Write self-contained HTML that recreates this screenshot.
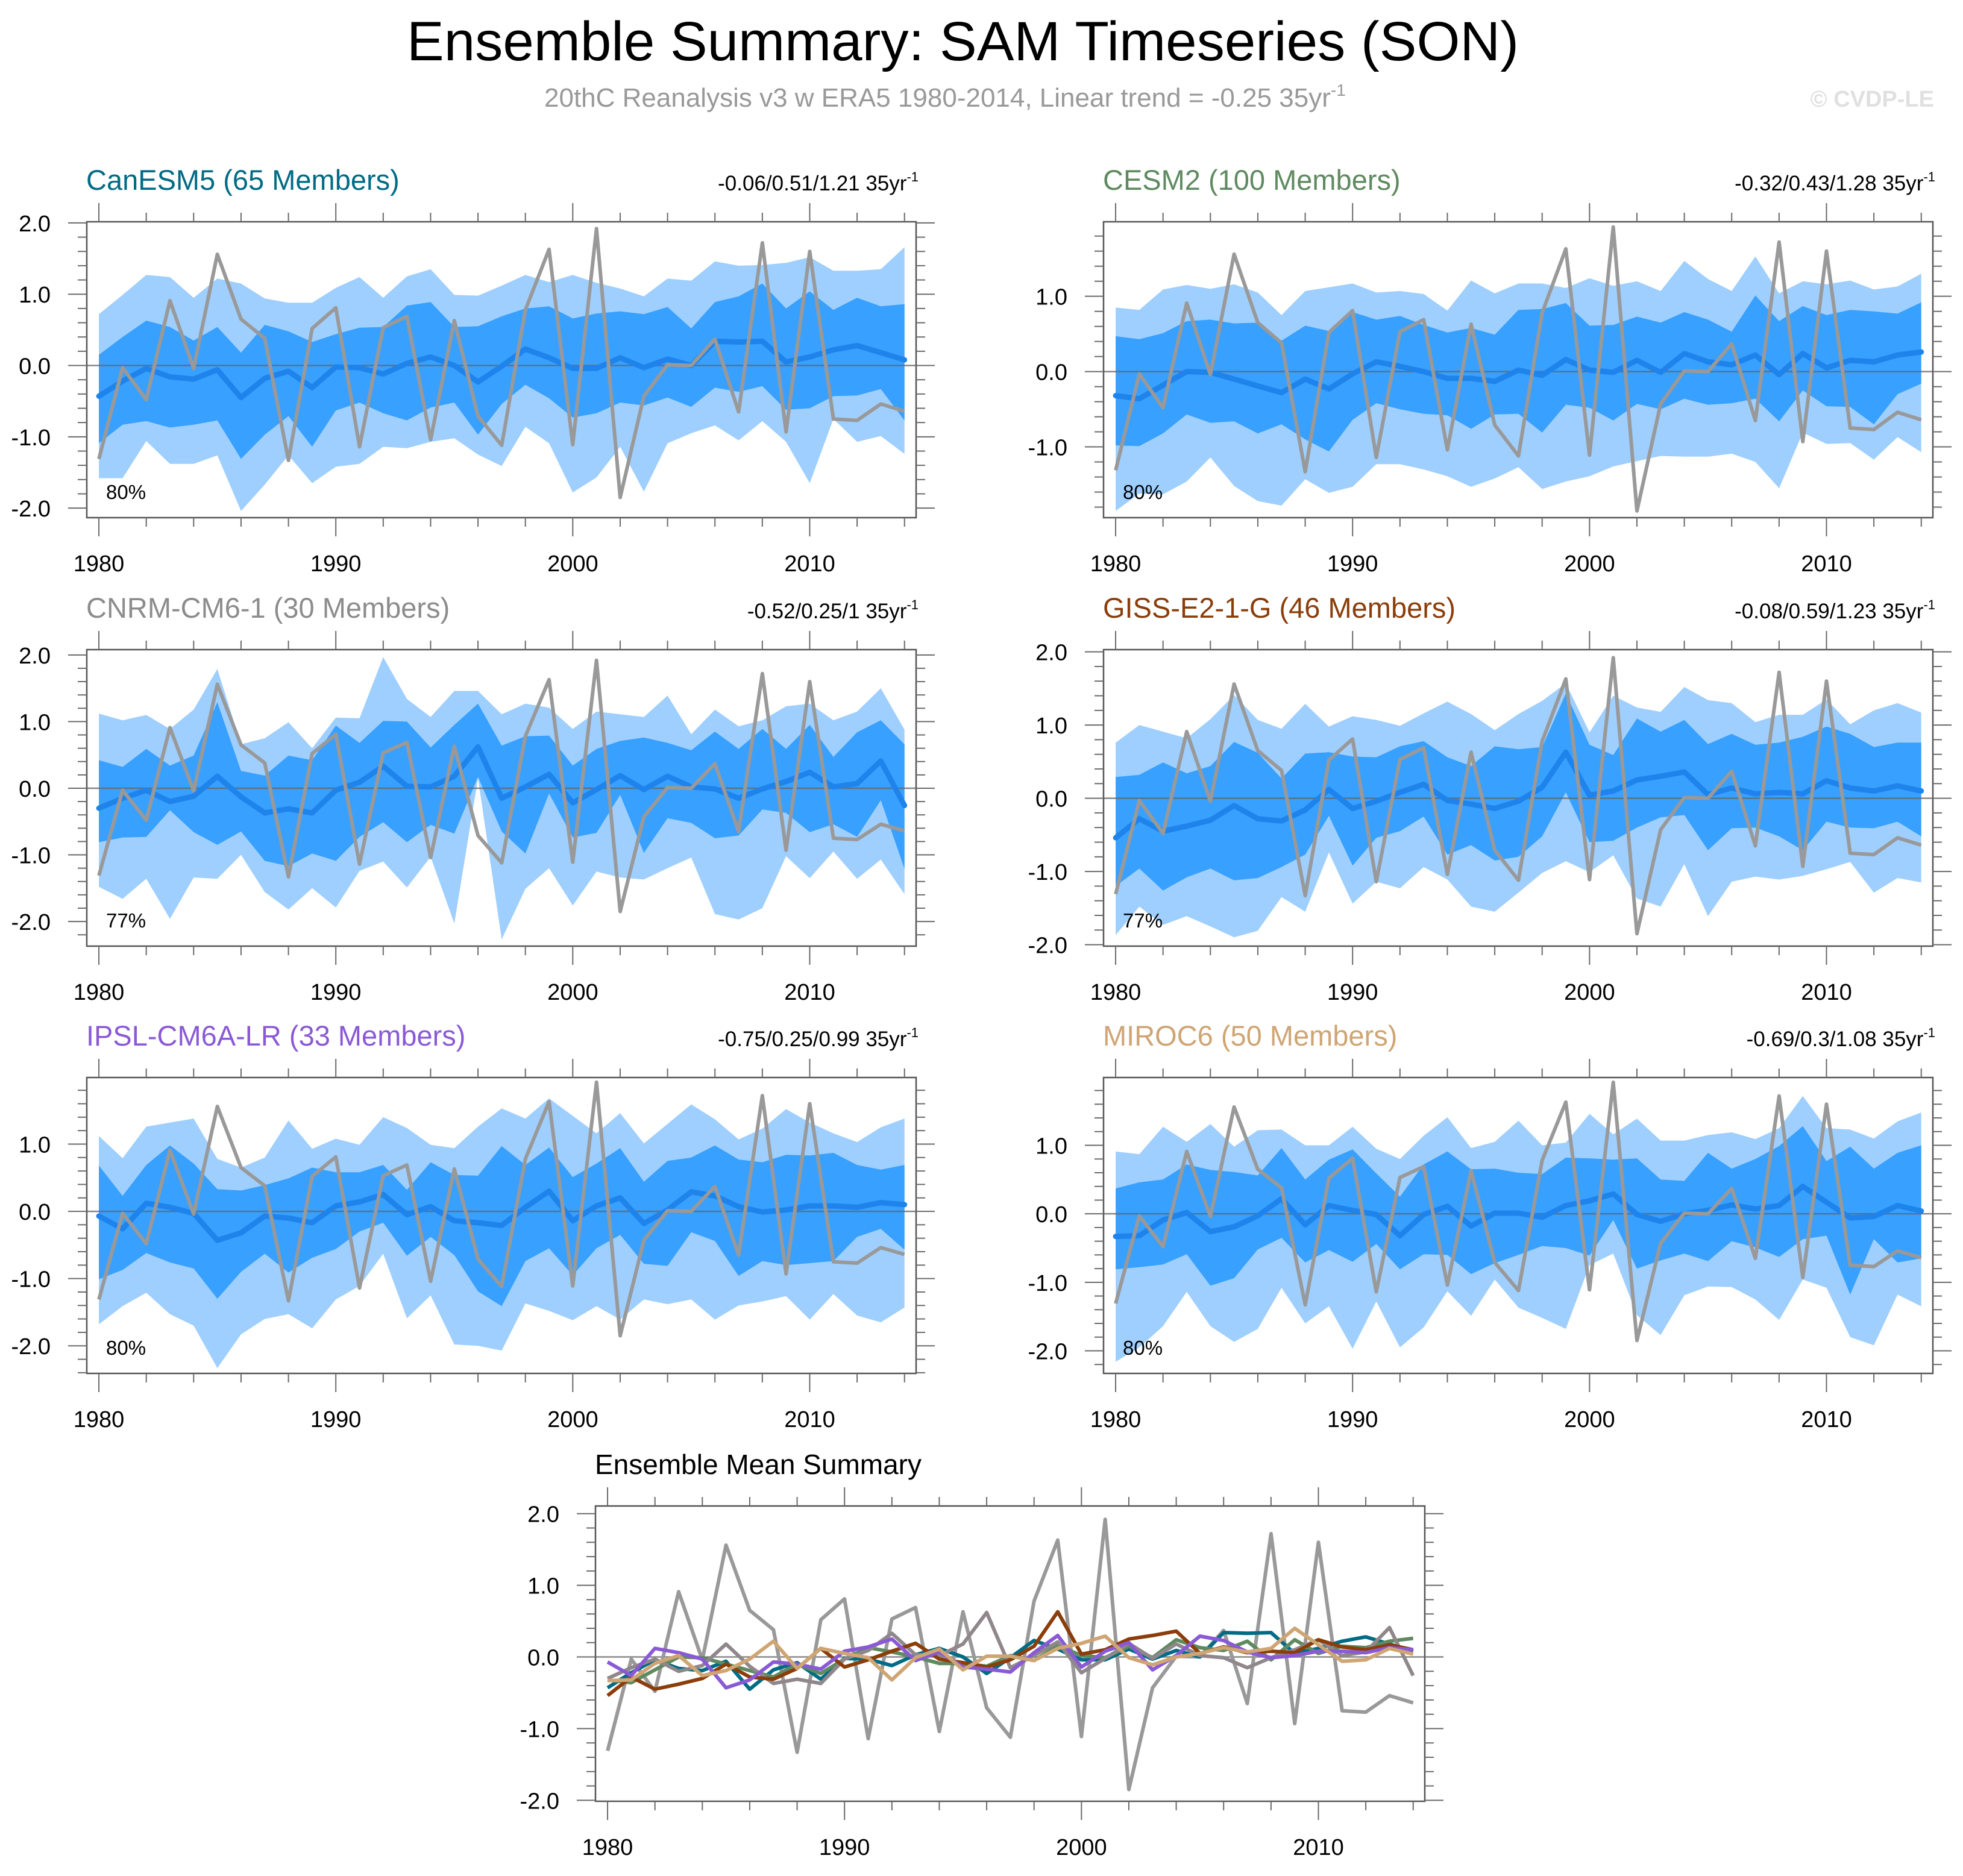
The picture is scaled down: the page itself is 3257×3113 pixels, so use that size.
<!DOCTYPE html>
<html><head><meta charset="utf-8"><title>Ensemble Summary: SAM Timeseries (SON)</title>
<style>html,body{margin:0;padding:0;background:#fff}svg{display:block}text{font-family:"Liberation Sans",sans-serif}</style>
</head><body>
<svg id="chart" xmlns="http://www.w3.org/2000/svg" width="3257" height="3113" viewBox="0 0 3257 3113">
<rect x="0" y="0" width="3257" height="3113" fill="#fff"/>
<text x="675" y="100" font-size="92" textLength="1845" lengthAdjust="spacingAndGlyphs" fill="#000">Ensemble Summary: SAM Timeseries (SON)</text>
<text x="903" y="177" font-size="44" fill="#999">20thC Reanalysis v3 w ERA5 1980-2014, Linear trend = -0.25 35yr<tspan dy="-18" font-size="28">-1</tspan></text>
<text x="3209" y="177" font-size="38" font-weight="bold" fill="#e0e0e0" text-anchor="end">© CVDP-LE</text>
<g id="plots"></g>
</svg>
<script>
const years = [1980,1981,1982,1983,1984,1985,1986,1987,1988,1989,1990,1991,1992,1993,1994,1995,1996,1997,1998,1999,2000,2001,2002,2003,2004,2005,2006,2007,2008,2009,2010,2011,2012,2013,2014];
const obs = [-1.31,-0.03,-0.48,0.91,-0.04,1.56,0.65,0.38,-1.33,0.52,0.81,-1.14,0.53,0.69,-1.04,0.63,-0.71,-1.12,0.78,1.63,-1.11,1.92,-1.85,-0.43,0.01,0.0,0.37,-0.65,1.72,-0.93,1.60,-0.75,-0.77,-0.54,-0.64];

const canesm5Hi2 = [0.72,0.99,1.27,1.24,0.95,1.22,1.15,0.94,0.88,0.88,1.09,1.24,0.95,1.25,1.35,0.99,0.98,1.12,1.27,1.17,1.27,1.16,1.08,0.97,1.22,1.19,1.46,1.40,1.41,1.44,1.52,1.33,1.33,1.35,1.66];
const canesm5Hi1 = [0.15,0.40,0.63,0.54,0.35,0.54,0.18,0.57,0.48,0.33,0.44,0.53,0.54,0.84,0.89,0.54,0.55,0.69,0.80,0.83,0.66,0.73,0.76,0.72,0.82,0.52,0.89,0.97,1.15,0.80,1.04,0.78,0.95,0.83,0.86];
const canesm5Mean = [-0.43,-0.22,-0.04,-0.16,-0.19,-0.06,-0.45,-0.18,-0.08,-0.31,-0.02,-0.03,-0.12,0.03,0.12,0.0,-0.23,-0.01,0.23,0.11,-0.04,-0.04,0.11,-0.03,0.09,0.0,0.34,0.33,0.34,0.05,0.12,0.22,0.28,0.18,0.08];
const canesm5Lo1 = [-1.09,-0.83,-0.78,-0.87,-0.83,-0.77,-1.31,-0.97,-0.71,-1.14,-0.63,-0.52,-0.67,-0.77,-0.59,-0.52,-0.97,-0.54,-0.27,-0.46,-0.73,-0.67,-0.52,-0.56,-0.45,-0.58,-0.31,-0.37,-0.29,-0.62,-0.60,-0.43,-0.42,-0.33,-0.77];
const canesm5Lo2 = [-1.58,-1.58,-1.06,-1.38,-1.38,-1.26,-2.04,-1.67,-1.26,-1.65,-1.42,-1.38,-1.14,-1.16,-1.07,-1.02,-1.25,-1.41,-0.86,-1.09,-1.78,-1.57,-1.14,-1.77,-1.09,-0.95,-0.84,-1.05,-0.78,-1.07,-1.65,-0.75,-1.07,-0.99,-1.24];

const cesm2Hi2 = [0.85,0.82,1.09,1.15,1.10,1.16,1.05,0.75,1.07,1.12,1.17,1.05,1.07,1.03,0.81,1.21,1.04,1.17,1.17,1.11,1.24,1.14,1.20,1.07,1.47,1.23,1.07,1.53,1.04,1.20,1.16,1.21,1.09,1.13,1.30];
const cesm2Hi1 = [0.47,0.43,0.51,0.67,0.69,0.64,0.65,0.41,0.61,0.54,0.79,0.69,0.74,0.62,0.52,0.58,0.49,0.82,0.83,0.91,0.61,0.62,0.73,0.65,0.79,0.69,0.53,1.01,0.67,0.87,0.75,0.82,0.80,0.77,0.92];
const cesm2Mean = [-0.32,-0.36,-0.18,0.0,-0.01,-0.10,-0.19,-0.28,-0.10,-0.23,-0.03,0.13,0.07,0.0,-0.09,-0.09,-0.13,0.02,-0.05,0.16,0.02,-0.01,0.15,-0.01,0.24,0.13,0.09,0.22,-0.04,0.24,0.05,0.15,0.13,0.22,0.26];
const cesm2Lo1 = [-0.98,-0.99,-0.82,-0.57,-0.68,-0.66,-0.82,-0.70,-0.90,-1.06,-0.64,-0.42,-0.50,-0.56,-0.58,-0.76,-0.57,-0.56,-0.81,-0.44,-0.48,-0.65,-0.43,-0.50,-0.36,-0.44,-0.42,-0.36,-0.66,-0.25,-0.46,-0.47,-0.70,-0.30,-0.16];
const cesm2Lo2 = [-1.85,-1.62,-1.63,-1.46,-1.14,-1.52,-1.72,-1.78,-1.43,-1.61,-1.53,-1.23,-1.23,-1.30,-1.39,-1.53,-1.42,-1.27,-1.56,-1.46,-1.39,-1.26,-1.19,-1.12,-1.13,-1.13,-1.09,-1.20,-1.55,-0.81,-0.96,-0.95,-1.17,-0.87,-1.07];

const cnrmHi2 = [1.12,1.02,1.10,0.89,1.18,1.79,0.66,0.75,0.99,0.60,1.06,1.05,1.97,1.34,1.07,1.46,1.46,1.11,1.27,1.21,0.89,1.15,1.11,1.07,1.39,0.81,1.18,0.93,1.02,1.23,1.27,1.02,1.15,1.50,0.88];
const cnrmHi1 = [0.42,0.32,0.59,0.34,0.49,1.29,0.26,0.19,0.49,0.42,0.94,0.68,1.01,1.00,0.61,0.95,1.27,0.64,0.78,0.79,0.34,0.59,0.71,0.76,0.68,0.57,0.85,0.59,0.89,0.59,0.95,0.47,0.84,1.02,0.66];
const cnrmMean = [-0.30,-0.15,-0.03,-0.20,-0.12,0.18,-0.13,-0.37,-0.31,-0.37,-0.03,0.09,0.33,0.03,0.02,0.18,0.62,-0.15,0.02,0.21,-0.22,-0.02,0.19,-0.02,0.18,0.02,-0.01,-0.15,-0.01,0.10,0.24,0.02,0.07,0.41,-0.26];
const cnrmLo1 = [-0.81,-0.74,-0.73,-0.33,-0.66,-0.85,-0.65,-1.09,-1.17,-0.98,-1.09,-0.73,-0.51,-0.81,-0.55,-0.68,0.17,-0.65,-0.98,-0.08,-0.74,-0.67,-0.10,-0.97,-0.45,-0.52,-0.75,-0.71,-0.32,-0.37,-0.66,-0.54,-0.73,-0.18,-1.21];
const cnrmLo2 = [-1.48,-1.66,-1.36,-1.96,-1.34,-1.36,-1.00,-1.56,-1.82,-1.50,-1.79,-1.24,-1.10,-1.49,-1.03,-2.03,0.15,-2.27,-1.51,-1.20,-1.76,-1.25,-1.34,-1.37,-1.20,-1.04,-1.89,-1.97,-1.80,-1.02,-1.35,-0.95,-1.36,-1.07,-1.59];

const gissHi2 = [0.76,1.00,0.91,0.82,1.08,1.41,1.07,0.95,1.29,0.98,1.12,1.07,0.99,1.16,1.32,1.15,0.93,1.15,1.33,1.57,0.90,1.40,1.24,1.18,1.52,1.34,1.30,1.04,1.14,1.14,1.35,1.01,1.20,1.30,1.17];
const gissHi1 = [0.29,0.32,0.49,0.34,0.44,0.77,0.62,0.27,0.61,0.63,0.57,0.56,0.71,0.78,0.56,0.44,0.71,0.67,0.70,1.43,0.73,0.59,1.09,0.91,1.07,0.74,0.88,0.73,0.76,0.84,0.98,0.88,0.70,0.76,0.76];
const gissMean = [-0.54,-0.28,-0.45,-0.38,-0.30,-0.10,-0.28,-0.31,-0.16,0.12,-0.14,-0.04,0.08,0.19,-0.03,-0.08,-0.14,-0.04,0.15,0.63,0.04,0.10,0.25,0.30,0.36,0.05,0.14,0.06,0.08,0.06,0.24,0.14,0.10,0.17,0.10];
const gissLo1 = [-1.20,-0.96,-1.26,-1.08,-0.96,-1.12,-1.09,-0.94,-0.77,-0.24,-0.92,-0.54,-0.45,-0.25,-0.77,-0.64,-0.85,-0.80,-0.52,0.08,-0.60,-0.58,-0.40,-0.26,-0.23,-0.71,-0.41,-0.40,-0.52,-0.71,-0.32,-0.40,-0.41,-0.32,-0.52];
const gissLo2 = [-1.87,-1.48,-1.73,-1.61,-1.75,-1.90,-1.81,-1.35,-1.55,-0.74,-1.44,-1.14,-1.23,-0.94,-1.11,-1.48,-1.55,-1.29,-1.02,-0.86,-1.01,-0.78,-1.37,-1.48,-0.90,-1.61,-1.14,-1.07,-1.11,-1.06,-0.97,-0.87,-1.29,-1.09,-1.15];

const ipslHi2 = [1.12,0.79,1.26,1.32,1.38,0.78,0.65,0.80,1.35,0.93,1.08,0.99,1.40,1.24,0.99,0.94,1.26,1.53,1.38,1.68,1.42,1.16,1.46,1.01,1.30,1.59,1.37,1.07,1.23,1.52,1.32,1.16,1.03,1.25,1.38];
const ipslHi1 = [0.68,0.23,0.69,0.98,0.71,0.33,0.31,0.39,0.49,0.65,0.58,0.58,0.69,0.32,0.73,0.54,0.53,0.97,0.69,0.95,0.51,0.71,0.94,0.44,0.75,0.80,0.98,0.77,0.73,0.84,0.83,0.87,0.69,0.62,0.69];
const ipslMean = [-0.07,-0.26,0.12,0.06,-0.03,-0.43,-0.32,-0.07,-0.10,-0.17,0.08,0.14,0.25,-0.05,0.07,-0.14,-0.17,-0.21,0.06,0.30,-0.14,0.08,0.20,-0.18,0.02,0.29,0.23,0.07,-0.01,0.02,0.08,0.08,0.06,0.13,0.10];
const ipslLo1 = [-1.01,-0.87,-0.62,-0.76,-0.85,-1.30,-0.90,-0.63,-0.91,-0.69,-0.56,-0.30,-0.17,-0.66,-0.38,-0.65,-1.19,-1.41,-0.74,-0.55,-0.95,-0.55,-0.35,-0.78,-0.81,-0.31,-0.44,-0.96,-0.74,-0.80,-0.77,-0.74,-0.38,-0.26,-0.57];
const ipslLo2 = [-1.68,-1.41,-1.21,-1.53,-1.70,-2.33,-1.83,-1.60,-1.53,-1.74,-1.31,-1.11,-0.63,-1.59,-1.25,-1.98,-2.00,-2.07,-1.37,-1.48,-1.62,-1.41,-1.61,-1.31,-1.38,-1.31,-1.61,-1.40,-1.34,-1.26,-1.61,-1.23,-1.55,-1.65,-1.43];

const mirocHi2 = [0.91,0.87,1.27,1.05,1.31,0.98,1.22,1.23,1.00,1.00,1.27,0.95,0.80,1.14,1.41,0.96,1.05,1.36,1.00,1.04,1.46,1.16,1.39,1.07,1.07,1.15,1.19,1.09,1.25,1.72,1.25,1.23,1.10,1.35,1.48];
const mirocHi1 = [0.37,0.46,0.50,0.72,0.64,0.61,0.56,0.96,0.50,0.79,0.94,0.59,0.25,0.72,0.91,0.65,0.66,0.60,0.58,0.82,0.81,0.79,0.81,0.50,0.48,0.89,0.66,0.80,0.99,1.28,0.77,0.98,0.66,0.89,1.00];
const mirocMean = [-0.33,-0.32,-0.09,0.02,-0.26,-0.19,-0.03,0.22,-0.16,0.12,0.05,-0.01,-0.32,-0.01,0.11,-0.18,0.01,0.01,-0.05,0.12,0.19,0.29,-0.01,-0.11,0.0,0.05,0.13,0.07,0.12,0.40,0.17,-0.06,-0.04,0.12,0.04];
const mirocLo1 = [-0.81,-0.78,-0.74,-0.59,-1.05,-0.94,-0.52,-0.35,-0.71,-0.53,-0.70,-0.44,-0.81,-0.59,-0.60,-0.88,-0.72,-0.60,-0.47,-0.50,-0.61,-0.09,-0.80,-0.68,-0.58,-0.69,-0.40,-0.49,-0.63,-0.37,-0.32,-1.18,-0.37,-0.71,-0.65];
const mirocLo2 = [-2.16,-1.95,-1.64,-1.14,-1.64,-1.87,-1.68,-1.08,-1.60,-1.35,-1.97,-1.28,-1.95,-1.66,-1.13,-1.49,-0.96,-1.37,-1.52,-1.68,-0.75,-0.58,-1.48,-1.77,-1.19,-1.06,-1.07,-1.25,-1.55,-0.96,-1.08,-1.80,-1.92,-1.18,-1.35];

const modelNames = ["CanESM5 (65 Members)","CESM2 (100 Members)","CNRM-CM6-1 (30 Members)","GISS-E2-1-G (46 Members)","IPSL-CM6A-LR (33 Members)","MIROC6 (50 Members)"];
const trendLabels = ["-0.06/0.51/1.21 35yr","-0.32/0.43/1.28 35yr","-0.52/0.25/1 35yr","-0.08/0.59/1.23 35yr","-0.75/0.25/0.99 35yr","-0.69/0.3/1.08 35yr"];
const pctLabels = ["80%","80%","77%","77%","80%","80%"];
const xTickYears = [1980,1990,2000,2010];

const NS = "http://www.w3.org/2000/svg";
const root = document.getElementById("plots");
function mk(tag, attrs, parent) {
  const e = document.createElementNS(NS, tag);
  for (const k in attrs) e.setAttribute(k, attrs[k]);
  (parent || root).appendChild(e);
  return e;
}
const modelColors = ["#006b85","#5f8a60","#8c8c8c","#8b3d0a","#8a5ad6","#cfa574"];
const summaryColors = ["#006b85","#5f8a60","#8f878b","#8b3d0a","#8a5ad6","#cfa574"];
const slugs = ["canesm5","cesm2","cnrm-cm6-1","giss-e2-1-g","ipsl-cm6a-lr","miroc6"];
const bands = [
  [canesm5Hi2,canesm5Hi1,canesm5Mean,canesm5Lo1,canesm5Lo2],
  [cesm2Hi2,cesm2Hi1,cesm2Mean,cesm2Lo1,cesm2Lo2],
  [cnrmHi2,cnrmHi1,cnrmMean,cnrmLo1,cnrmLo2],
  [gissHi2,gissHi1,gissMean,gissLo1,gissLo2],
  [ipslHi2,ipslHi1,ipslMean,ipslLo1,ipslLo2],
  [mirocHi2,mirocHi1,mirocMean,mirocLo1,mirocLo2]
];
const layout = [
  {x0:144,y0:368,h:491,ymax:2.016,ymin:-2.134},
  {x0:1831,y0:368,h:491,ymax:1.99,ymin:-1.94},
  {x0:144,y0:1078,h:492,ymax:2.08,ymin:-2.37},
  {x0:1831,y0:1078,h:492,ymax:2.03,ymin:-2.02},
  {x0:144,y0:1788,h:491,ymax:1.99,ymin:-2.41},
  {x0:1831,y0:1788,h:491,ymax:1.99,ymin:-2.33}
];
const W = 1376, XMIN = 1979.49, XMAX = 2014.49;

function axes(g, L, slug) {
  const xs = yr => L.x0 + (yr - XMIN) / (XMAX - XMIN) * W;
  const ys = v => L.y0 + (L.ymax - v) / (L.ymax - L.ymin) * L.h;
  const cid = "clip-" + slug;
  const cp = mk("clipPath", {id: cid}, g);
  mk("rect", {x: L.x0, y: L.y0, width: W, height: L.h}, cp);
  return {xs, ys, cid};
}
function frameAndTicks(g, L, xs, ys, slug) {
  const tc = "#6a6a6a";
  mk("rect", {x: L.x0, y: L.y0, width: W, height: L.h, fill: "none", stroke: "#555", "stroke-width": 2.5}, g);
  const ticks = mk("g", {stroke: tc, "stroke-width": 2}, g);
  
  
  for (let yr = 1980; yr <= 2014; yr += 2) {
    const major = (yr % 10 === 0), len = major ? 31 : 15, x = xs(yr);
    mk("line", {x1: x, y1: L.y0, x2: x, y2: L.y0 - len}, ticks);
    mk("line", {x1: x, y1: L.y0 + L.h, x2: x, y2: L.y0 + L.h + len}, ticks);
  }
  const lo = Math.ceil(L.ymin * 5 - 1e-6), hi = Math.floor(L.ymax * 5 + 1e-6);
  for (let k = lo; k <= hi; k++) {
    const v = k / 5, major = (k % 5 === 0), len = major ? 31 : 15, y = ys(v);
    mk("line", {x1: L.x0, y1: y, x2: L.x0 - len, y2: y}, ticks);
    mk("line", {x1: L.x0 + W, y1: y, x2: L.x0 + W + len, y2: y}, ticks);
    if (major) {
      const t = mk("text", {x: L.x0 - 60, y: y + 14, "font-size": 38, "text-anchor": "end", fill: "#000"}, g);
      t.textContent = v.toFixed(1);
      
      
    }
  }
  xTickYears.forEach(yr => {
    const t = mk("text", {x: xs(yr), y: L.y0 + L.h + 89, "font-size": 38, "text-anchor": "middle", fill: "#000"}, g);
    t.textContent = yr;
    
    
  });
}
function linePts(arr, xs, ys) { return arr.map((v, i) => xs(years[i]).toFixed(1) + "," + ys(v).toFixed(1)).join(" "); }
function bandPts(up, dn, xs, ys) {
  const a = up.map((v, i) => xs(years[i]).toFixed(1) + "," + ys(v).toFixed(1));
  const b = dn.map((v, i) => xs(years[i]).toFixed(1) + "," + ys(v).toFixed(1)).reverse();
  return a.concat(b).join(" ");
}

layout.forEach((L, p) => {
  const slug = slugs[p];
  const g = mk("g", {});
  
  
  const {xs, ys, cid} = axes(g, L, slug);
  const [hi2, hi1, mean, lo1, lo2] = bands[p];
  const inner = mk("g", {"clip-path": "url(#" + cid + ")"}, g);
  const b2 = mk("polygon", {points: bandPts(hi2, lo2, xs, ys), fill: "#9fcfff"}, inner);
  
  
  const b1 = mk("polygon", {points: bandPts(hi1, lo1, xs, ys), fill: "#38a0ff"}, inner);
  
  
  const z = mk("line", {x1: L.x0, x2: L.x0 + W, y1: ys(0), y2: ys(0), stroke: "#666", "stroke-width": 2.5, "stroke-opacity": 0.8}, inner);
  
  
  const ml = mk("polyline", {points: linePts(mean, xs, ys), fill: "none", stroke: "#1e84ec", "stroke-width": 9, "stroke-linejoin": "round", "stroke-linecap": "round"}, inner);
  
  
  const ol = mk("polyline", {points: linePts(obs, xs, ys), fill: "none", stroke: "#999", "stroke-width": 6, "stroke-linejoin": "round"}, inner);
  
  
  frameAndTicks(g, L, xs, ys, slug);
  const tt = mk("text", {x: L.x0 - 1, y: L.y0 - 53, "font-size": 47, fill: modelColors[p]}, g);
  tt.textContent = modelNames[p];
  
  
  const st = mk("text", {x: L.x0 + W + 4, y: L.y0 - 52, "font-size": 35, "text-anchor": "end", fill: "#000"}, g);
  st.textContent = trendLabels[p];
  const sup = mk("tspan", {dy: -15, "font-size": 22}, st);
  sup.textContent = "-1";
  
  
  const pc = mk("text", {x: L.x0 + 32, y: L.y0 + L.h - 31, "font-size": 33, fill: "#000"}, g);
  pc.textContent = pctLabels[p];
  
  
});

// summary panel
(function () {
  const L = {x0: 988, y0: 2499, h: 490, ymax: 2.107, ymin: -2.014};
  const slug = "summary";
  const g = mk("g", {});
  
  
  const {xs, ys, cid} = axes(g, L, slug);
  const inner = mk("g", {"clip-path": "url(#" + cid + ")"}, g);
  const z = mk("line", {x1: L.x0, x2: L.x0 + W, y1: ys(0), y2: ys(0), stroke: "#888", "stroke-width": 2.5}, inner);
  
  
  const ol = mk("polyline", {points: linePts(obs, xs, ys), fill: "none", stroke: "#999", "stroke-width": 6, "stroke-linejoin": "round"}, inner);
  
  
  bands.forEach((b, p) => {
    const l = mk("polyline", {points: linePts(b[2], xs, ys), fill: "none", stroke: summaryColors[p], "stroke-width": 6, "stroke-linejoin": "round"}, inner);
    
    
  });
  frameAndTicks(g, L, xs, ys, slug);
  const tt = mk("text", {x: 987, y: 2446, "font-size": 46, fill: "#000"}, g);
  tt.textContent = "Ensemble Mean Summary";
  
  
})();
</script>
</body></html>
